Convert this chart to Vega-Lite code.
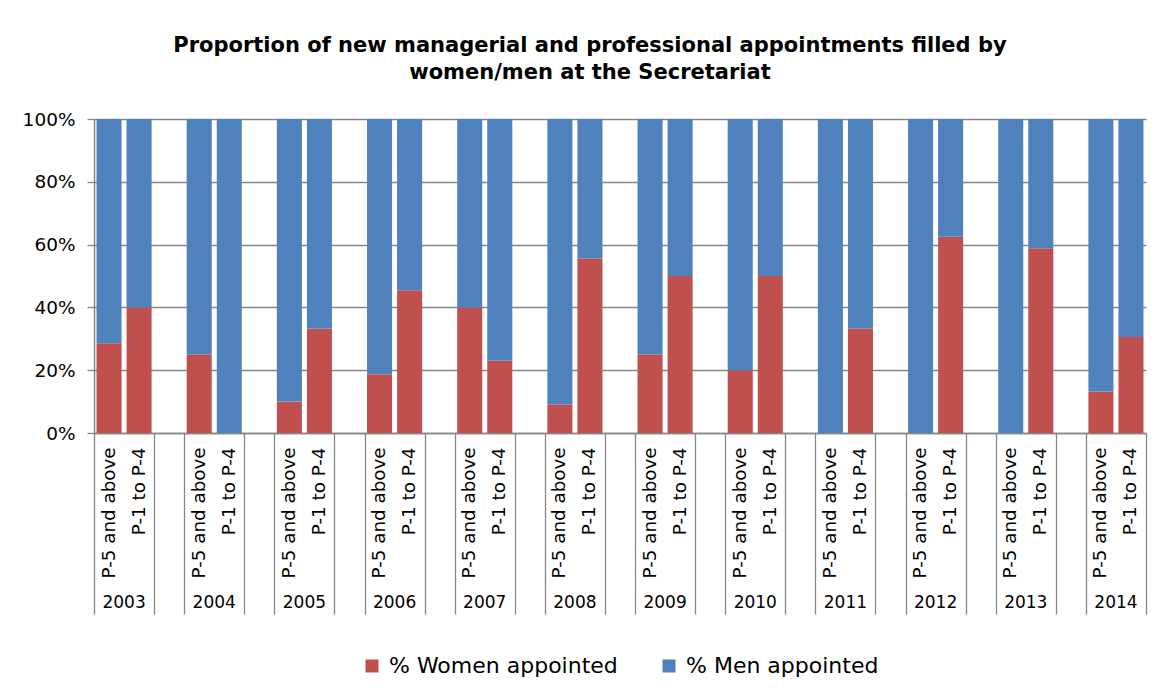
{
  "$schema": "https://vega.github.io/schema/vega-lite/v6.json",
  "width": 1052,
  "height": 314,
  "padding": {"left": 22, "top": 35, "right": 25, "bottom": 5},
  "background": "white",
  "title": {
    "text": ["Proportion of new managerial and professional appointments filled by", "women/men at the Secretariat"],
    "font": "DejaVu Sans",
    "fontSize": 21,
    "fontWeight": "bold",
    "color": "black",
    "anchor": "middle",
    "frame": "group",
    "dx": -30,
    "lineHeight": 27,
    "offset": 27
  },
  "data": {
    "values": [
      {"slot": "2003|P-5 and above", "year": "2003", "series": "% Women appointed", "value": 28.6},
      {"slot": "2003|P-5 and above", "year": "2003", "series": "% Men appointed", "value": 71.4},
      {"slot": "2003|P-1 to P-4", "year": "2003", "series": "% Women appointed", "value": 40},
      {"slot": "2003|P-1 to P-4", "year": "2003", "series": "% Men appointed", "value": 60},
      {"slot": "2004|P-5 and above", "year": "2004", "series": "% Women appointed", "value": 25},
      {"slot": "2004|P-5 and above", "year": "2004", "series": "% Men appointed", "value": 75},
      {"slot": "2004|P-1 to P-4", "year": "2004", "series": "% Women appointed", "value": 0},
      {"slot": "2004|P-1 to P-4", "year": "2004", "series": "% Men appointed", "value": 100},
      {"slot": "2005|P-5 and above", "year": "2005", "series": "% Women appointed", "value": 10},
      {"slot": "2005|P-5 and above", "year": "2005", "series": "% Men appointed", "value": 90},
      {"slot": "2005|P-1 to P-4", "year": "2005", "series": "% Women appointed", "value": 33.3},
      {"slot": "2005|P-1 to P-4", "year": "2005", "series": "% Men appointed", "value": 66.7},
      {"slot": "2006|P-5 and above", "year": "2006", "series": "% Women appointed", "value": 18.75},
      {"slot": "2006|P-5 and above", "year": "2006", "series": "% Men appointed", "value": 81.25},
      {"slot": "2006|P-1 to P-4", "year": "2006", "series": "% Women appointed", "value": 45.5},
      {"slot": "2006|P-1 to P-4", "year": "2006", "series": "% Men appointed", "value": 54.5},
      {"slot": "2007|P-5 and above", "year": "2007", "series": "% Women appointed", "value": 40},
      {"slot": "2007|P-5 and above", "year": "2007", "series": "% Men appointed", "value": 60},
      {"slot": "2007|P-1 to P-4", "year": "2007", "series": "% Women appointed", "value": 23},
      {"slot": "2007|P-1 to P-4", "year": "2007", "series": "% Men appointed", "value": 77},
      {"slot": "2008|P-5 and above", "year": "2008", "series": "% Women appointed", "value": 9.1},
      {"slot": "2008|P-5 and above", "year": "2008", "series": "% Men appointed", "value": 90.9},
      {"slot": "2008|P-1 to P-4", "year": "2008", "series": "% Women appointed", "value": 55.6},
      {"slot": "2008|P-1 to P-4", "year": "2008", "series": "% Men appointed", "value": 44.4},
      {"slot": "2009|P-5 and above", "year": "2009", "series": "% Women appointed", "value": 25},
      {"slot": "2009|P-5 and above", "year": "2009", "series": "% Men appointed", "value": 75},
      {"slot": "2009|P-1 to P-4", "year": "2009", "series": "% Women appointed", "value": 50},
      {"slot": "2009|P-1 to P-4", "year": "2009", "series": "% Men appointed", "value": 50},
      {"slot": "2010|P-5 and above", "year": "2010", "series": "% Women appointed", "value": 20},
      {"slot": "2010|P-5 and above", "year": "2010", "series": "% Men appointed", "value": 80},
      {"slot": "2010|P-1 to P-4", "year": "2010", "series": "% Women appointed", "value": 50},
      {"slot": "2010|P-1 to P-4", "year": "2010", "series": "% Men appointed", "value": 50},
      {"slot": "2011|P-5 and above", "year": "2011", "series": "% Women appointed", "value": 0},
      {"slot": "2011|P-5 and above", "year": "2011", "series": "% Men appointed", "value": 100},
      {"slot": "2011|P-1 to P-4", "year": "2011", "series": "% Women appointed", "value": 33.3},
      {"slot": "2011|P-1 to P-4", "year": "2011", "series": "% Men appointed", "value": 66.7},
      {"slot": "2012|P-5 and above", "year": "2012", "series": "% Women appointed", "value": 0},
      {"slot": "2012|P-5 and above", "year": "2012", "series": "% Men appointed", "value": 100},
      {"slot": "2012|P-1 to P-4", "year": "2012", "series": "% Women appointed", "value": 62.5},
      {"slot": "2012|P-1 to P-4", "year": "2012", "series": "% Men appointed", "value": 37.5},
      {"slot": "2013|P-5 and above", "year": "2013", "series": "% Women appointed", "value": 0},
      {"slot": "2013|P-5 and above", "year": "2013", "series": "% Men appointed", "value": 100},
      {"slot": "2013|P-1 to P-4", "year": "2013", "series": "% Women appointed", "value": 58.8},
      {"slot": "2013|P-1 to P-4", "year": "2013", "series": "% Men appointed", "value": 41.2},
      {"slot": "2014|P-5 and above", "year": "2014", "series": "% Women appointed", "value": 13.2},
      {"slot": "2014|P-5 and above", "year": "2014", "series": "% Men appointed", "value": 86.8},
      {"slot": "2014|P-1 to P-4", "year": "2014", "series": "% Women appointed", "value": 30.6},
      {"slot": "2014|P-1 to P-4", "year": "2014", "series": "% Men appointed", "value": 69.4}
    ]
  },
  "layer": [
    {
      "mark": {"type": "bar", "width": {"band": 0.833}},
      "encoding": {
        "x": {
          "field": "slot",
          "type": "nominal",
          "scale": {
            "domain": [
              "2003|P-5 and above", "2003|P-1 to P-4", "2003|",
              "2004|P-5 and above", "2004|P-1 to P-4", "2004|",
              "2005|P-5 and above", "2005|P-1 to P-4", "2005|",
              "2006|P-5 and above", "2006|P-1 to P-4", "2006|",
              "2007|P-5 and above", "2007|P-1 to P-4", "2007|",
              "2008|P-5 and above", "2008|P-1 to P-4", "2008|",
              "2009|P-5 and above", "2009|P-1 to P-4", "2009|",
              "2010|P-5 and above", "2010|P-1 to P-4", "2010|",
              "2011|P-5 and above", "2011|P-1 to P-4", "2011|",
              "2012|P-5 and above", "2012|P-1 to P-4", "2012|",
              "2013|P-5 and above", "2013|P-1 to P-4", "2013|",
              "2014|P-5 and above", "2014|P-1 to P-4"
            ],
            "paddingInner": 0,
            "paddingOuter": 0
          },
          "axis": {
            "title": null,
            "orient": "bottom",
            "labelExpr": "split(datum.value, '|')[1]",
            "labelAngle": -90,
            "labelAlign": "right",
            "labelBaseline": "middle",
            "labelFont": "DejaVu Sans",
            "labelFontSize": 18.3,
            "labelColor": "black",
            "labelPadding": -167,
            "labelOverlap": false,
            "labelBound": false,
            "labelLimit": 300,
            "tickBand": "extent",
            "tickSize": 181,
            "tickColor": "#868686",
            "tickWidth": 1.3,
            "tickOpacity": {
              "condition": {"test": "!datum.value || split(datum.value, '|')[1] != 'P-5 and above'", "value": 1},
              "value": 0
            },
            "domainColor": "#868686",
            "domainWidth": 1.5,
            "grid": false
          }
        },
        "y": {
          "field": "value",
          "type": "quantitative",
          "stack": "normalize",
          "axis": {
            "title": null,
            "format": ".0%",
            "values": [0, 0.2, 0.4, 0.6, 0.8, 1],
            "grid": true,
            "gridColor": "#868686",
            "gridWidth": 1.3,
            "tickColor": "#868686",
            "tickWidth": 1.3,
            "tickSize": 7,
            "domainColor": "#868686",
            "domainWidth": 1.5,
            "labelFont": "DejaVu Sans",
            "labelFontSize": 18.5,
            "labelColor": "black",
            "labelPadding": 12
          }
        },
        "color": {
          "field": "series",
          "type": "nominal",
          "scale": {
            "domain": ["% Women appointed", "% Men appointed"],
            "range": ["#C0504D", "#4F81BD"]
          },
          "legend": {
            "title": null,
            "orient": "bottom",
            "direction": "horizontal",
            "symbolType": "square",
            "symbolSize": 169,
            "symbolStrokeWidth": 0,
            "labelFont": "DejaVu Sans",
            "labelFontSize": 22,
            "labelColor": "black",
            "labelOffset": 6,
            "labelLimit": 400,
            "columnPadding": 40,
            "offset": 40
          }
        },
        "order": {"field": "series", "sort": "descending"}
      }
    },
    {
      "mark": {"type": "bar", "opacity": 0},
      "encoding": {
        "x": {
          "field": "year",
          "type": "ordinal",
          "scale": {"paddingInner": 0.3333, "paddingOuter": 0},
          "axis": {
            "title": null,
            "orient": "bottom",
            "offset": 158,
            "domain": false,
            "ticks": false,
            "tickSize": 0,
            "labelAngle": 0,
            "labelFont": "DejaVu Sans",
            "labelFontSize": 17,
            "labelColor": "black",
            "labelPadding": 3,
            "grid": false
          }
        }
      }
    }
  ],
  "resolve": {"scale": {"x": "independent"}, "axis": {"x": "independent"}},
  "config": {
    "view": {"stroke": null},
    "legend": {"layout": {"bottom": {"anchor": "middle"}}}
  }
}
